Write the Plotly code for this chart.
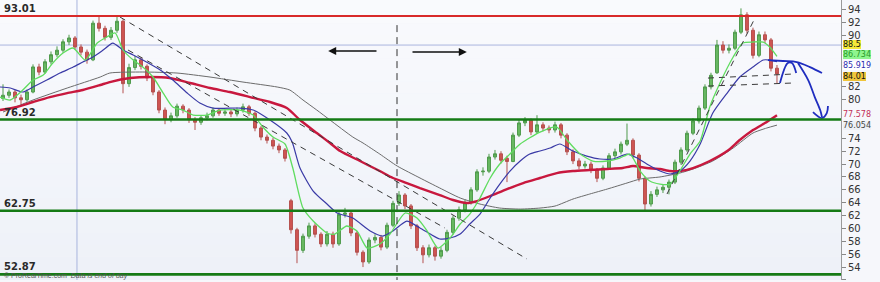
import plotly.graph_objects as go

# ---------------- daily prices (one entry per session) ----------------
open_ = [80.2, 80.7, 81.2, 80.3, 80.0, 81.2, 85.1, 84.3, 85.9, 87.0,
         87.7, 89.0, 89.6, 88.2, 87.4, 86.2, 91.9, 91.1, 89.7, 90.8,
         92.2, 82.5, 85.0, 86.2, 85.2, 83.4, 81.2, 78.4, 76.9, 77.5,
         79.0, 78.4, 76.9, 76.5, 77.2, 77.5, 78.4, 77.9, 78.1, 77.8,
         78.4, 78.9, 77.9, 75.6, 74.2, 73.7, 72.8, 72.2, 64.3, 59.8,
         56.6, 58.8, 60.4, 59.1, 57.6, 59.1, 57.6, 62.2, 62.4, 59.3,
         56.3, 54.8, 58.2, 58.6, 57.1, 60.5, 63.9, 65.2, 63.5, 60.4,
         57.0, 55.9, 57.0, 55.7, 56.6, 59.4, 61.6, 62.9, 64.0, 66.0,
         68.8, 68.9, 71.1, 71.6, 70.9, 70.4, 74.5, 76.4, 76.8, 75.0,
         76.1, 75.6, 75.3, 76.1, 74.5, 71.9, 70.5, 69.7, 70.0, 69.1,
         67.8, 69.4, 71.3, 71.9, 73.1, 73.7, 71.4, 67.8, 63.8, 65.3,
         66.0, 66.4, 67.2, 70.3, 72.2, 74.8, 76.7, 78.7, 82.0, 84.2,
         88.5, 87.7, 88.0, 90.5, 93.2, 90.8, 86.9, 90.1, 89.3, 84.9]
high = [82.4, 81.6, 81.5, 80.8, 81.6, 85.5, 85.6, 86.3, 87.5, 88.3,
        89.4, 90.1, 89.9, 88.6, 87.8, 92.3, 93.0, 91.5, 91.3, 93.0,
        92.5, 85.6, 86.8, 86.6, 85.5, 83.7, 81.5, 78.8, 78.0, 79.4,
        79.3, 78.7, 77.3, 77.6, 78.0, 78.8, 78.7, 78.5, 78.5, 78.8,
        79.4, 79.2, 78.2, 75.9, 74.6, 74.1, 73.2, 72.5, 64.6, 60.1,
        59.2, 60.9, 60.8, 59.4, 59.6, 59.5, 62.6, 63.2, 62.7, 59.6,
        56.6, 58.6, 59.1, 59.0, 60.9, 64.3, 65.8, 65.5, 63.8, 60.7,
        57.4, 57.5, 57.3, 57.1, 59.8, 62.0, 63.4, 64.5, 66.4, 69.2,
        69.5, 71.6, 72.2, 72.0, 71.3, 74.9, 76.9, 77.3, 77.1, 77.6,
        76.5, 76.0, 76.6, 76.4, 74.8, 72.3, 70.9, 70.5, 70.4, 69.4,
        69.8, 71.7, 72.4, 73.5, 76.3, 74.0, 71.7, 68.1, 65.8, 66.5,
        66.9, 67.6, 70.7, 72.6, 75.2, 77.1, 79.1, 82.4, 84.2, 89.3,
        89.1, 88.6, 90.9, 94.2, 93.6, 91.2, 90.6, 90.6, 89.6, 85.4]
low = [79.8, 80.3, 79.6, 79.3, 79.7, 81.0, 83.8, 84.0, 85.5, 86.6,
       87.3, 88.5, 87.8, 86.9, 85.6, 86.0, 90.6, 89.2, 89.3, 90.4,
       81.0, 82.0, 84.6, 84.7, 82.9, 80.7, 77.9, 76.2, 76.5, 77.2,
       77.9, 76.4, 75.3, 76.1, 76.8, 77.2, 77.5, 77.5, 77.3, 77.4,
       78.0, 77.5, 75.1, 73.7, 73.2, 72.3, 71.7, 70.4, 59.2, 54.6,
       56.2, 58.4, 58.6, 57.1, 57.2, 57.0, 57.3, 61.7, 58.8, 55.8,
       54.0, 54.5, 57.7, 56.6, 56.8, 60.2, 63.5, 63.0, 59.9, 56.5,
       54.6, 55.5, 55.0, 55.3, 56.3, 59.0, 61.2, 62.5, 63.7, 65.7,
       68.2, 68.6, 70.7, 70.1, 67.2, 70.3, 74.2, 75.9, 74.5, 74.7,
       75.1, 74.8, 74.9, 74.0, 71.4, 70.0, 69.2, 69.3, 68.6, 67.2,
       67.5, 69.1, 70.9, 71.5, 72.8, 70.9, 67.3, 62.7, 63.4, 64.9,
       65.5, 65.3, 66.9, 69.9, 71.9, 74.5, 76.3, 78.4, 81.6, 84.0,
       87.2, 87.2, 87.7, 90.2, 90.3, 86.4, 86.6, 88.8, 84.4, 82.6]
close = [80.7, 81.2, 80.3, 80.0, 81.2, 85.1, 84.3, 85.9, 87.0, 87.7,
         89.0, 89.6, 88.2, 87.4, 86.2, 91.9, 91.1, 89.7, 90.8, 92.2,
         82.5, 85.0, 86.2, 85.2, 83.4, 81.2, 78.4, 76.9, 77.5, 79.0,
         78.4, 76.9, 76.5, 77.2, 77.5, 78.4, 77.9, 78.1, 77.8, 78.4,
         78.9, 77.9, 75.6, 74.2, 73.7, 72.8, 72.2, 70.9, 59.8, 56.6,
         58.8, 60.4, 59.1, 57.6, 59.1, 57.6, 62.2, 62.4, 59.3, 56.3,
         54.8, 58.2, 58.6, 57.1, 60.5, 63.9, 65.2, 63.5, 60.4, 57.0,
         55.9, 57.0, 55.7, 56.6, 59.4, 61.6, 62.9, 64.0, 66.0, 68.8,
         68.9, 71.1, 71.6, 70.6, 70.4, 74.5, 76.4, 76.8, 75.0, 76.1,
         75.6, 75.3, 76.1, 74.5, 71.9, 70.5, 69.7, 70.0, 69.1, 67.8,
         69.4, 71.3, 71.9, 73.1, 73.7, 71.4, 67.8, 63.8, 65.3, 66.0,
         66.4, 67.2, 70.3, 72.2, 74.8, 76.7, 78.7, 82.0, 83.8, 88.5,
         87.7, 88.0, 90.5, 93.2, 90.8, 86.9, 90.1, 89.3, 84.9, 84.01]
sessions = list(range(len(close)))

# ---------------- moving averages (session, value) ----------------
ma_fast_s = [-0.5, 1.2, 3.3, 5, 6.7, 8.3, 10, 11.7, 13.7, 15.7, 17.3, 18.7, 20, 21.7, 23.3, 25,
             26.7, 28.3, 30, 31.7, 34, 36.2, 39.5, 41.7, 43.3, 45, 47, 48.3, 50, 51.7, 54, 55.3,
             57.3, 59, 60.7, 62.8, 64.5, 67, 69, 70.7, 72.5, 74.5, 76.2, 77.8, 79.5, 81.2, 82.8,
             84.5, 86.2, 89.5, 92.3, 94, 96.2, 98.3, 100.7, 102.8, 104.5, 106.2, 107.8, 109.5,
             111.2, 112.8, 114.5, 116.2, 117.8, 119.5, 121.7, 123.3, 125, 126.7, 127.8, 129]
ma_fast_v = [80.42, 79.96, 81.51, 83.06, 83.84, 85.71, 87.26, 88.04, 86.17, 88.81, 89.75, 90.37,
             87.73, 86.17, 85.08, 83.53, 81.04, 78.87, 78.40, 77.62, 77.62, 78.40, 78.40, 77.62,
             75.76, 74.21, 73.12, 69.39, 63.17, 61.15, 59.29, 59.13, 60.38, 59.60, 56.96, 57.58,
             59.13, 62.40, 61.62, 59.60, 56.96, 58.51, 60.69, 62.24, 64.73, 67.84, 70.01, 71.56,
             73.12, 74.98, 75.76, 73.74, 71.56, 70.48, 70.48, 70.94, 71.56, 68.92, 67.37, 66.90,
             66.90, 68.92, 71.56, 73.59, 78.87, 82.60, 86.64, 88.81, 88.97, 88.97, 88.19, 86.73]

ma_mid_s = [-0.5, 1.2, 3.3, 5, 7.3, 9.5, 11.7, 13.3, 15, 16.7, 18.3, 20, 21.7, 23.3, 26.2, 28.3,
            30.7, 32.8, 35, 39.5, 41.7, 44.5, 47.3, 48.2, 49.5, 51.7, 54, 55.7, 58.3, 61.2, 63.3,
            65, 67.3, 69.5, 71.2, 72.8, 74.5, 76.2, 77.8, 79.5, 81.2, 82.8, 84.5, 86.2, 87.8,
            89.5, 91.2, 92.8, 95, 97.3, 99.5, 101.7, 104, 105.7, 107.3, 109.5, 111.2, 112.8,
            114.5, 116.2, 118.3, 120.7, 122.8, 125, 126.7, 127.8, 129]
ma_mid_v = [81.98, 81.82, 81.20, 81.98, 83.06, 84.15, 85.08, 85.86, 86.64, 87.73, 88.81, 87.73,
            86.95, 86.17, 84.62, 83.06, 81.04, 79.49, 78.71, 78.71, 78.40, 76.85, 74.83, 73.43,
            69.39, 65.81, 63.79, 62.40, 61.62, 59.60, 58.82, 59.60, 61.15, 60.07, 59.13, 58.36,
            58.51, 59.13, 60.69, 62.24, 64.73, 66.90, 68.92, 70.48, 71.56, 72.03, 72.50, 73.12,
            72.03, 71.25, 70.79, 70.79, 71.56, 70.94, 70.01, 68.92, 68.46, 68.92, 70.48, 73.12,
            77.93, 81.04, 83.53, 85.08, 86.17, 86.17, 85.919]

ma_slow_s = [-0.5, 2.3, 5, 7.8, 10.7, 13.3, 16.2, 17.8, 21.2, 24.5, 27.8, 31.2, 34.5, 37.8, 41.2,
             44.5, 47.3, 49.5, 52.3, 54.5, 56.2, 59.5, 62.8, 65, 67.3, 69.5, 72.8, 75, 77.3, 79,
             81.2, 84, 86.7, 89.5, 92.3, 95, 97.8, 100.7, 103.3, 105, 107.3, 109.5, 111.2, 112.8,
             115, 117.8, 120.7, 122.8, 125, 127.3, 129]
ma_slow_v = [78.40, 78.87, 79.65, 80.42, 81.04, 81.51, 82.29, 82.75, 83.37, 83.53, 83.37, 82.60,
             81.82, 81.20, 80.42, 79.65, 78.71, 76.85, 74.83, 73.28, 72.03, 70.48, 68.92, 67.84,
             67.06, 66.28, 65.19, 64.42, 63.95, 64.26, 65.04, 66.12, 67.06, 67.84, 68.61, 68.92,
             69.08, 69.23, 69.39, 69.70, 69.39, 69.23, 68.92, 68.92, 69.39, 70.48, 72.03, 73.74,
             75.29, 76.54, 77.578]

ma_long_s = [0, 5, 10.7, 16.2, 17.8, 23.3, 29, 34.5, 40, 45.7, 47.8, 50, 52.3, 54.5, 58.3, 60,
             62.8, 65.7, 69.5, 72.8, 76.2, 79.5, 82.8, 86.2, 89.5, 92, 95, 97.8, 100.7, 104,
             106.2, 109.5, 112.8, 115, 118.3, 121.7, 125, 127.3, 129]
ma_long_v = [78.09, 79.96, 81.82, 83.53, 84.15, 84.31, 84.15, 83.53, 82.75, 81.98, 81.51, 79.96,
             78.40, 76.85, 74.21, 73.28, 71.56, 69.70, 67.84, 66.28, 64.73, 63.79, 63.17, 63.01,
             63.17, 63.48, 64.57, 65.35, 66.12, 67.06, 67.68, 68.00, 68.61, 69.23, 70.48, 72.50,
             74.83, 75.61, 76.054]

# ---------------- support / resistance levels ----------------
resistance = 93.01
supports = [76.92, 62.75, 52.87]
marker_level = 88.5
marker_session = 12.33
split_session = 65.67

# ---------------- drawn trendlines (session, price) ----------------
trend_a_s, trend_a_v = [19.5, 87.33], [92.85, 55.25]
trend_b_s, trend_b_v = [20.83, 73.67], [87.73, 60.06]
trend_c_s, trend_c_v = [110.67, 125.33], [65.35, 92.70]
box_top_s, box_top_v = [117.5, 131.67], [83.37, 84.00]
box_bot_s, box_bot_v = [117.5, 131.67], [82.13, 82.60]

# hand-drawn projection strokes
stroke_arc_s, stroke_arc_v = [127.5, 130.0, 132.3, 134.5, 136.5], [86.17, 86.02, 85.86, 85.08, 84.15]
stroke_up_s, stroke_up_v = [129.5, 130.8, 131.5, 132.2], [82.60, 85.71, 85.71, 84.15]
stroke_down_s, stroke_down_v = [132.5, 134.2, 135.3, 136.2, 136.5], [85.71, 83.06, 80.42, 78.40, 77.31]
stroke_hook_s, stroke_hook_v = [135.0, 136.5, 137.3, 137.5], [78.09, 77.16, 77.93, 79.02]

# ---------------- axis ----------------
tick_vals = [52, 54, 56, 58, 60, 62, 64, 66, 68, 70, 72, 74, 80, 82, 90, 92, 94]
tick_text = [str(v) for v in tick_vals]

# right-hand value tags: (value, text, font colour, background, vertical nudge in px)
tags = [
    (88.5, "88.5", "#111111", "#f3ea3a", 1),
    (86.73, "86.734", "#2a9a2a", "#8ef58e", 1.5),
    (85.919, "85.919", "#2b2bb0", "#ffffff", -4),
    (84.01, "84.01", "#111111", "#f0c53a", -2.5),
    (77.578, "77.578", "#c23058", "#f7f8fc", 1),
    (76.054, "76.054", "#444444", "#eef0f6", -0.5),
]

Y_MIN, Y_MAX = 51.99, 95.5
X_MIN, X_MAX = -0.5, 139.67

fig = go.Figure()

fig.add_trace(go.Candlestick(
    x=sessions, open=open_, high=high, low=low, close=close,
    increasing=dict(line=dict(color="#4f9a4c", width=1), fillcolor="#68b862"),
    decreasing=dict(line=dict(color="#b5514f", width=1), fillcolor="#cf5553"),
    whiskerwidth=0, hoverinfo="skip", showlegend=False,
))

for xs, ys, col, w in [
    (ma_long_s, ma_long_v, "#6b6b6b", 1),
    (ma_slow_s, ma_slow_v, "#c8183e", 2.4),
    (ma_mid_s, ma_mid_v, "#3a3aa6", 1.2),
    (ma_fast_s, ma_fast_v, "#5fdc5f", 1.3),
]:
    fig.add_trace(go.Scatter(x=xs, y=ys, mode="lines",
                             line=dict(color=col, width=w, shape="spline", smoothing=0.6),
                             hoverinfo="skip", showlegend=False))

for xs, ys in [(trend_a_s, trend_a_v), (trend_b_s, trend_b_v), (trend_c_s, trend_c_v),
               (box_top_s, box_top_v), (box_bot_s, box_bot_v)]:
    fig.add_trace(go.Scatter(x=xs, y=ys, mode="lines",
                             line=dict(color="#3a3a3a", width=1, dash="6px,5px"),
                             hoverinfo="skip", showlegend=False))

for xs, ys in [(stroke_arc_s, stroke_arc_v), (stroke_up_s, stroke_up_v),
               (stroke_down_s, stroke_down_v), (stroke_hook_s, stroke_hook_v)]:
    fig.add_trace(go.Scatter(x=xs, y=ys, mode="lines",
                             line=dict(color="#1f2dbf", width=1.8, shape="spline"),
                             hoverinfo="skip", showlegend=False))

shapes = []
# soft vertical gradient on the plotting area
n_bands = 24
for i in range(n_bands):
    t = i / (n_bands - 1)
    r = round(249 - 11 * t)
    g = round(250 - 9 * t)
    b = round(253 - 5 * t)
    shapes.append(dict(type="rect", xref="paper", yref="paper", x0=0, x1=1,
                       y0=1 - (i + 1) / n_bands, y1=1 - i / n_bands,
                       fillcolor=f"rgb({r},{g},{b})", line=dict(width=0), layer="below"))

shapes.append(dict(type="line", xref="x", yref="paper", x0=marker_session, x1=marker_session,
                   y0=0, y1=1, line=dict(color="#a9b4de", width=1), layer="below"))
shapes.append(dict(type="line", xref="paper", yref="y", x0=0, x1=1, y0=marker_level, y1=marker_level,
                   line=dict(color="#a9b4de", width=1), layer="below"))
shapes.append(dict(type="line", xref="x", yref="y", x0=split_session, x1=split_session,
                   y0=91.6, y1=Y_MIN, line=dict(color="#333333", width=1, dash="7px,5px")))
shapes.append(dict(type="line", xref="paper", yref="y", x0=0, x1=1, y0=resistance, y1=resistance,
                   line=dict(color="#d92a2a", width=2), layer="above"))
for lvl in supports:
    shapes.append(dict(type="line", xref="paper", yref="y", x0=0, x1=1, y0=lvl, y1=lvl,
                       line=dict(color="#157a15", width=2.6), layer="above"))

annotations = []
for lvl in [resistance] + supports:
    annotations.append(dict(xref="paper", yref="y", x=0, y=lvl, xanchor="left", yanchor="bottom",
                            xshift=2, yshift=0, showarrow=False, text=f"<b>{lvl:.2f}</b>",
                            font=dict(family="DejaVu Sans", size=10, color="#2a2a2a")))

# direction arrows either side of the split
annotations.append(dict(xref="x", yref="y", axref="x", ayref="y", x=54.2, y=87.57, ax=62.5, ay=87.57,
                        text="", showarrow=True, arrowhead=2, arrowsize=1, arrowwidth=1.6,
                        arrowcolor="#111111"))
annotations.append(dict(xref="x", yref="y", axref="x", ayref="y", x=77.3, y=87.42, ax=68.0, ay=87.42,
                        text="", showarrow=True, arrowhead=2, arrowsize=1, arrowwidth=1.6,
                        arrowcolor="#111111"))

for val, txt, fc, bg, nudge in tags:
    annotations.append(dict(xref="paper", yref="y", x=1, y=val, xanchor="left", yanchor="middle",
                            xshift=2, yshift=nudge, showarrow=False, text=txt, bgcolor=bg,
                            borderwidth=0, borderpad=0,
                            font=dict(family="DejaVu Sans", size=8, color=fc)))

annotations.append(dict(xref="paper", yref="paper", x=0, y=0, xanchor="left", yanchor="bottom",
                        xshift=2, yshift=-2, showarrow=False,
                        text="© ProRealTime.com  <i>Data is end of day</i>",
                        font=dict(family="Liberation Sans", size=7, color="#555555")))

fig.update_layout(
    width=880, height=282,
    margin=dict(l=0, r=39, t=0, b=2),
    paper_bgcolor="#f6f7fb",
    plot_bgcolor="#f1f3f9",
    showlegend=False,
    shapes=shapes,
    annotations=annotations,
    xaxis=dict(range=[X_MIN, X_MAX], visible=False, rangeslider=dict(visible=False),
               showgrid=False, zeroline=False),
    yaxis=dict(side="right", range=[Y_MIN, Y_MAX], tickvals=tick_vals, ticktext=tick_text,
               ticks="outside", ticklen=4, tickcolor="#888888", showline=True,
               linecolor="#9a9a9a", linewidth=1, showgrid=False, zeroline=False,
               tickfont=dict(family="DejaVu Sans", size=10, color="#333333")),
)

fig.write_html("out.html")
